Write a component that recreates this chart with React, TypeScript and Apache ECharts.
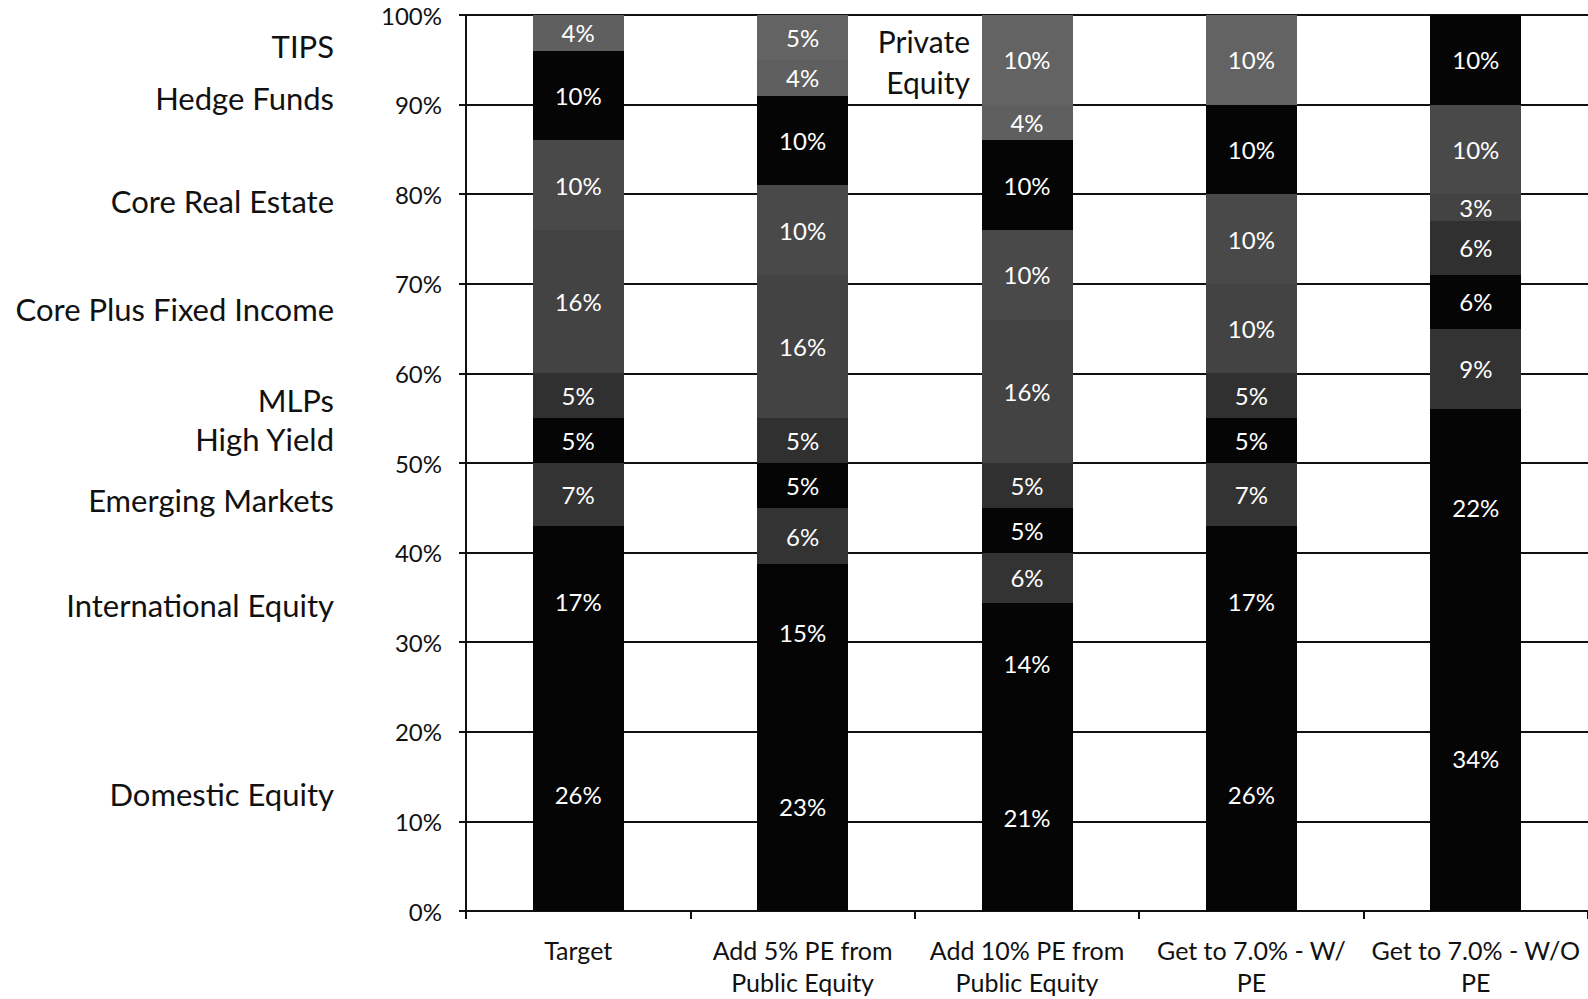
import React, { useEffect, useRef } from "react";
import * as echarts from "echarts";

// Scenario categories along the x axis
const categories = [
  "Target",
  "Add 5% PE from\nPublic Equity",
  "Add 10% PE from\nPublic Equity",
  "Get to 7.0% - W/\nPE",
  "Get to 7.0% - W/O\nPE",
];

// Allocation per asset class, in percent of the portfolio (bottom to top)
const domesticEquity = [26, 23.4, 20.8, 26, 34];
const internationalEquity = [17, 15.3, 13.6, 17, 22];
const emergingMarkets = [7, 6.3, 5.6, 7, 9];
const highYield = [5, 5, 5, 5, 6];
const mlps = [5, 5, 5, 5, 6];
const corePlusFixedIncome = [16, 16, 16, 10, 3];
const coreRealEstate = [10, 10, 10, 10, 10];
const hedgeFunds = [10, 10, 10, 10, 10];
const tips = [4, 4, 4, 0, 0];
const privateEquity = [0, 5, 10, 10, 0];

const seriesNames = [
  "Domestic Equity",
  "International Equity",
  "Emerging Markets",
  "High Yield",
  "MLPs",
  "Core Plus Fixed Income",
  "Core Real Estate",
  "Hedge Funds",
  "TIPS",
  "Private Equity",
];

const seriesValues = [
  domesticEquity,
  internationalEquity,
  emergingMarkets,
  highYield,
  mlps,
  corePlusFixedIncome,
  coreRealEstate,
  hedgeFunds,
  tips,
  privateEquity,
];

const yTicks = [0, 10, 20, 30, 40, 50, 60, 70, 80, 90, 100];

// Fill shades for each asset class
const fills: Record<string, string> = {
  "Domestic Equity": "#050505",
  "International Equity": "#050505",
  "Emerging Markets": "#333333",
  "High Yield": "#050505",
  "MLPs": "#303030",
  "Core Plus Fixed Income": "#434343",
  "Core Real Estate": "#494949",
  "Hedge Funds": "#050505",
  "TIPS": "#5f5f5f",
  "Private Equity": "#636363",
};

// Series names written beside the first column
const sideLabels: { name: string; y: number }[] = [
  { name: "TIPS", y: 46 },
  { name: "Hedge Funds", y: 98 },
  { name: "Core Real Estate", y: 201 },
  { name: "Core Plus Fixed Income", y: 309 },
  { name: "MLPs", y: 400 },
  { name: "High Yield", y: 439 },
  { name: "Emerging Markets", y: 500 },
  { name: "International Equity", y: 605 },
  { name: "Domestic Equity", y: 794 },
];

const FONT = "Lato, 'Open Sans', sans-serif";

export default function App() {
  const ref = useRef<HTMLDivElement>(null);

  useEffect(() => {
    if (!ref.current) return;
    const chart = echarts.init(ref.current, undefined, { renderer: "svg" });

    const series = seriesNames.map((name, i) => ({
      name,
      type: "bar" as const,
      stack: "alloc",
      barWidth: 91,
      data: seriesValues[i],
      itemStyle: { color: fills[name] },
      label: {
        show: true,
        position: "inside" as const,
        color: "#ffffff",
        fontFamily: FONT,
        fontSize: 24,
        formatter: (p: any) => (p.value ? Math.round(p.value) + "%" : ""),
      },
      emphasis: { disabled: true },
    }));

    const graphics: any[] = sideLabels.map((s) => ({
      type: "text",
      x: 334,
      y: s.y,
      style: {
        text: s.name,
        fontFamily: FONT,
        fontSize: 31,
        fill: "#111",
        align: "right",
        verticalAlign: "middle",
      },
    }));
    graphics.push({
      type: "text",
      x: 970,
      y: 61,
      style: {
        text: "Private\nEquity",
        fontFamily: FONT,
        fontSize: 30,
        lineHeight: 41,
        fill: "#111",
        align: "right",
        verticalAlign: "middle",
      },
    });

    chart.setOption({
      animation: false,
      backgroundColor: "#ffffff",
      grid: { left: 466, top: 15, width: 1127, height: 896 },
      xAxis: {
        type: "category",
        data: categories,
        axisLine: { lineStyle: { color: "#111", width: 2 } },
        axisTick: { show: true, length: 8, lineStyle: { color: "#111", width: 1.5 } },
        axisLabel: {
          color: "#111",
          fontFamily: FONT,
          fontSize: 25,
          lineHeight: 32,
          margin: 23,
          interval: 0,
        },
      },
      yAxis: {
        type: "value",
        min: 0,
        max: 100,
        interval: 10,
        axisLine: { show: true, lineStyle: { color: "#111", width: 2 } },
        axisTick: { show: true, length: 7, lineStyle: { color: "#111", width: 1.5 } },
        axisLabel: {
          color: "#111",
          fontFamily: FONT,
          fontSize: 24,
          margin: 24,
          formatter: (v: number) => (yTicks.includes(v) ? v + "%" : ""),
        },
        splitLine: { lineStyle: { color: "#111", width: 1.6 } },
      },
      series,
      graphic: graphics,
    });

    return () => chart.dispose();
  }, []);

  return (
    <>
      {/* crisp edges keep adjoining stack segments free of hairline seams */}
      <style>{".alloc-chart svg path { shape-rendering: crispEdges; }"}</style>
      <div
        ref={ref}
        className="alloc-chart"
        style={{ position: "fixed", left: 0, top: 0, width: 1588, height: 999, background: "#fff" }}
      />
    </>
  );
}
